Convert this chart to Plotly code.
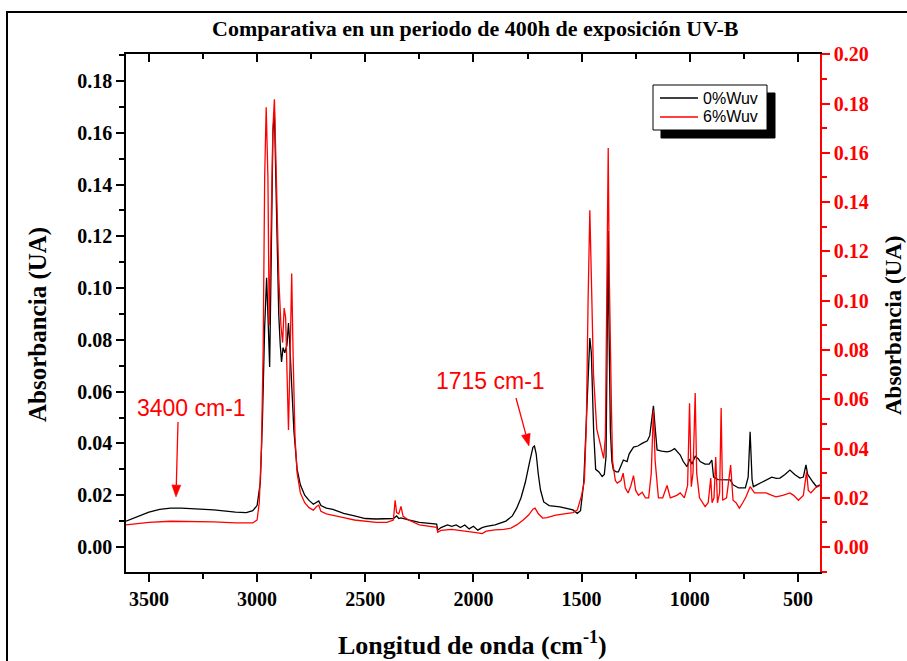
import plotly.graph_objects as go

# ---------------- data ----------------
wn_0 = [3606, 3550, 3500, 3450, 3400, 3350, 3300, 3200, 3100, 3050, 3020, 3000, 2985, 2975,
        2965, 2956, 2948, 2942, 2935, 2927, 2920, 2912, 2900, 2893, 2887, 2880, 2872, 2862,
        2855, 2850, 2840, 2830, 2815, 2800, 2780, 2760, 2740, 2725, 2715, 2705, 2680, 2650,
        2600, 2550, 2500, 2450, 2400, 2370, 2355, 2345, 2335, 2320, 2300, 2250, 2200, 2170,
        2165, 2150, 2120, 2100, 2080, 2060, 2040, 2020, 2000, 1980, 1960, 1940, 1900, 1850,
        1820, 1800, 1780, 1760, 1740, 1725, 1718, 1710, 1700, 1690, 1675, 1650, 1600, 1560,
        1540, 1520, 1505, 1490, 1478, 1470, 1462, 1455, 1444, 1435, 1420, 1405, 1395, 1387,
        1380, 1377, 1374, 1370, 1367, 1360, 1353, 1340, 1330, 1320, 1307, 1290, 1280, 1260,
        1240, 1220, 1196, 1185, 1175, 1168, 1160, 1151, 1130, 1105, 1090, 1070, 1044, 1030,
        1013, 1000, 990, 975, 960, 952, 930, 910, 898, 890, 870, 844, 813, 800, 774, 743,
        730, 721, 712, 706, 690, 675, 650, 621, 600, 583, 560, 537, 515, 491, 475, 463, 455,
        445, 430, 414, 398]
abs_0 = [0.0100, 0.0120, 0.0135, 0.0145, 0.0150, 0.0150, 0.0148, 0.0143, 0.0135, 0.0133, 0.0140,
         0.0160, 0.025, 0.050, 0.085, 0.104, 0.085, 0.0695, 0.110, 0.160, 0.168, 0.140, 0.090,
         0.078, 0.0715, 0.077, 0.075, 0.078, 0.0865, 0.080, 0.060, 0.045, 0.030, 0.024, 0.020,
         0.018, 0.0165, 0.0175, 0.0178, 0.016, 0.0150, 0.0145, 0.013, 0.012, 0.011, 0.0108,
         0.0108, 0.011, 0.012, 0.011, 0.0112, 0.011, 0.0105, 0.0095, 0.009, 0.0088, 0.0065,
         0.0075, 0.0085, 0.0080, 0.0085, 0.0075, 0.0085, 0.0070, 0.0080, 0.0065, 0.0075, 0.008,
         0.0085, 0.010, 0.012, 0.015, 0.019, 0.025, 0.033, 0.0385, 0.039, 0.036, 0.028, 0.022,
         0.0174, 0.016, 0.0155, 0.0148, 0.0143, 0.013, 0.014, 0.025, 0.050, 0.070, 0.0807,
         0.075, 0.044, 0.030, 0.029, 0.0272, 0.028, 0.035, 0.090, 0.122, 0.090, 0.055, 0.045,
         0.033, 0.0297, 0.029, 0.029, 0.031, 0.0336, 0.033, 0.036, 0.0386, 0.039, 0.040, 0.041,
         0.043, 0.050, 0.0545, 0.046, 0.0375, 0.037, 0.0367, 0.037, 0.038, 0.0355, 0.033, 0.031,
         0.034, 0.032, 0.035, 0.034, 0.033, 0.032, 0.032, 0.0336, 0.027, 0.026, 0.0259, 0.0259,
         0.024, 0.0228, 0.0228, 0.027, 0.0445, 0.026, 0.0233, 0.024, 0.0247, 0.026, 0.027,
         0.0265, 0.0266, 0.028, 0.0297, 0.028, 0.0266, 0.027, 0.0317, 0.028, 0.0266, 0.025,
         0.0233, 0.024]

wn_6 = [3606, 3550, 3500, 3400, 3300, 3200, 3100, 3050, 3020, 3000, 2990, 2980, 2972, 2965,
        2958, 2950, 2944, 2935, 2927, 2920, 2912, 2900, 2890, 2882, 2875, 2868, 2860, 2855,
        2848, 2840, 2834, 2825, 2815, 2800, 2780, 2760, 2740, 2725, 2715, 2705, 2680, 2650,
        2600, 2550, 2500, 2450, 2400, 2370, 2362, 2355, 2345, 2335, 2325, 2300, 2250, 2200,
        2170, 2165, 2150, 2100, 2060, 2020, 2000, 1980, 1960, 1940, 1900, 1860, 1827, 1800,
        1770, 1745, 1725, 1715, 1700, 1680, 1660, 1620, 1580, 1540, 1520, 1500, 1487, 1478,
        1470, 1462, 1455, 1445, 1430, 1410, 1398, 1390, 1383, 1377, 1372, 1366, 1362, 1357,
        1344, 1335, 1318, 1308, 1298, 1285, 1272, 1260, 1250, 1237, 1220, 1205, 1190, 1178,
        1168, 1160, 1145, 1125, 1105, 1090, 1060, 1044, 1025, 1010, 1001, 993, 985, 975, 968,
        955, 940, 929, 915, 903, 897, 888, 880, 872, 862, 855, 848, 830, 811, 800, 786, 771,
        755, 740, 721, 701, 675, 647, 620, 601, 570, 537, 520, 498, 475, 460, 452, 440, 420, 398]
abs_6 = [0.0090, 0.0095, 0.0100, 0.0105, 0.0105, 0.0102, 0.0098, 0.0097, 0.0098, 0.011, 0.018,
         0.040, 0.080, 0.150, 0.1785, 0.150, 0.090, 0.130, 0.170, 0.1817, 0.150, 0.110, 0.090,
         0.083, 0.097, 0.093, 0.065, 0.0475, 0.075, 0.111, 0.080, 0.045, 0.030, 0.022, 0.018,
         0.016, 0.015, 0.0165, 0.017, 0.0145, 0.0135, 0.013, 0.012, 0.011, 0.0105, 0.0100,
         0.0100, 0.011, 0.019, 0.014, 0.0135, 0.0165, 0.0125, 0.011, 0.0090, 0.0085, 0.0080,
         0.0060, 0.0068, 0.0072, 0.0068, 0.0065, 0.0062, 0.0058, 0.0055, 0.0065, 0.0070, 0.0072,
         0.0077, 0.009, 0.011, 0.013, 0.0154, 0.0158, 0.0135, 0.0118, 0.0120, 0.013, 0.0135,
         0.014, 0.015, 0.021, 0.027, 0.050, 0.100, 0.1367, 0.110, 0.070, 0.048, 0.040, 0.036,
         0.045, 0.100, 0.162, 0.110, 0.065, 0.0564, 0.035, 0.027, 0.026, 0.027, 0.030, 0.024,
         0.022, 0.025, 0.029, 0.023, 0.021, 0.0223, 0.020, 0.020, 0.030, 0.0556, 0.035, 0.020,
         0.020, 0.025, 0.020, 0.021, 0.022, 0.020, 0.025, 0.0584, 0.0245, 0.030, 0.0625, 0.030,
         0.020, 0.018, 0.0164, 0.018, 0.028, 0.018, 0.020, 0.0366, 0.018, 0.022, 0.0564, 0.019,
         0.020, 0.0333, 0.019, 0.018, 0.0158, 0.018, 0.0204, 0.0245, 0.022, 0.022, 0.022, 0.021,
         0.0204, 0.021, 0.022, 0.021, 0.019, 0.021, 0.0306, 0.023, 0.022, 0.024, 0.025]

series_names = ["0%Wuv", "6%Wuv"]
x_ticks = [3500, 3000, 2500, 2000, 1500, 1000, 500]
title_text = "Comparativa en un periodo de 400h de exposición UV-B"
x_title = "Longitud de onda (cm<sup>-1</sup>)"
y_title = "Absorbancia (UA)"
notes = ["3400 cm-1", "1715 cm-1"]

# ---------------- layout geometry ----------------
W, H = 907, 661
L, R, T, B = 126, 820, 54, 572
PW, PH = R - L, B - T


def xp(px):
    return (px - L) / PW


def yp(py):
    return (B - py) / PH


SERIF = "Liberation Serif"
SANS = "Liberation Sans"
RED = "#ff0000"
TICKSIZE = 20

fig = go.Figure()
fig.add_trace(go.Scatter(x=wn_0, y=abs_0, mode="lines", name=series_names[0],
                         line=dict(color="black", width=1.3), yaxis="y", showlegend=False))
fig.add_trace(go.Scatter(x=wn_6, y=abs_6, mode="lines", name=series_names[1],
                         line=dict(color=RED, width=1.3), yaxis="y2", showlegend=False))
# helper trace so the top axis gets drawn
fig.add_trace(go.Scatter(x=[None], y=[None], xaxis="x2", yaxis="y", showlegend=False,
                         hoverinfo="skip"))

xr = [3606, 398]
minor_x = [3250, 2750, 2250, 1750, 1250, 750]
fig.update_layout(
    width=W, height=H,
    margin=dict(l=L, r=W - R, t=T, b=H - B),
    paper_bgcolor="white", plot_bgcolor="white",
    showlegend=False,
    xaxis=dict(range=xr, tickvals=x_ticks, ticks="outside", ticklen=8, tickwidth=1.5,
               tickcolor="black", showline=True, linecolor="black", linewidth=1.5,
               showgrid=False, zeroline=False,
               tickfont=dict(family=SERIF, size=TICKSIZE, color="black", weight="bold"),
               minor=dict(tickvals=minor_x, ticks="outside",
                          ticklen=5, tickwidth=1.5, tickcolor="black", showgrid=False)),
    xaxis2=dict(range=xr, overlaying="x", side="top", tickvals=x_ticks, ticks="inside",
                ticklen=8, tickwidth=1.5, tickcolor="black", showline=True,
                linecolor="black", linewidth=1.5, showgrid=False, zeroline=False,
                showticklabels=False,
                minor=dict(tickvals=minor_x, ticks="inside",
                           ticklen=5, tickwidth=1.5, tickcolor="black", showgrid=False)),
    yaxis=dict(range=[-0.00966, 0.1904], dtick=0.02, tick0=0, tickformat=".2f",
               ticks="outside", ticklen=8, tickwidth=1.5, tickcolor="black",
               showline=True, linecolor="black", linewidth=1.5, showgrid=False,
               zeroline=False,
               tickfont=dict(family=SERIF, size=TICKSIZE, color="black", weight="bold"),
               minor=dict(dtick=0.01, tick0=0, ticks="outside", ticklen=5, tickwidth=1.5,
                          tickcolor="black", showgrid=False)),
    yaxis2=dict(range=[-0.0101, 0.2001], dtick=0.02, tick0=0, tickformat=".2f",
                overlaying="y", side="right", ticks="outside", ticklen=8, tickwidth=1.5,
                tickcolor=RED, showline=True, linecolor=RED, linewidth=1.5,
                showgrid=False, zeroline=False,
                tickfont=dict(family=SERIF, size=TICKSIZE, color=RED, weight="bold"),
                minor=dict(dtick=0.01, tick0=0, ticks="outside", ticklen=5, tickwidth=1.5,
                           tickcolor=RED, showgrid=False)),
)


def arrow_shapes(x0, y0, x1, y1, color):
    """Line from (x0,y0) to tip (x1,y1) in pixel coords, plus a filled head."""
    import math
    dx, dy = x1 - x0, y1 - y0
    n = math.hypot(dx, dy)
    ux, uy = dx / n, dy / n
    hl, hw = 12, 4.5
    bx, by = x1 - ux * hl, y1 - uy * hl
    px_, py_ = -uy, ux
    line = dict(type="line", xref="paper", yref="paper", x0=xp(x0), y0=yp(y0),
                x1=xp(bx), y1=yp(by), line=dict(color=color, width=1.3), layer="above")
    pts = [(x1, y1), (bx + px_ * hw, by + py_ * hw), (bx - px_ * hw, by - py_ * hw)]
    path = "M " + " L ".join(f"{xp(a):.5f},{yp(b):.5f}" for a, b in pts) + " Z"
    head = dict(type="path", xref="paper", yref="paper", path=path,
                fillcolor=color, line=dict(color=color, width=0.5), layer="above")
    return [line, head]


shapes = []
# outer frame
shapes.append(dict(type="rect", xref="paper", yref="paper", x0=xp(7), x1=xp(930),
                   y0=yp(680), y1=yp(12), line=dict(color="black", width=2),
                   fillcolor="rgba(0,0,0,0)", layer="below"))
# legend shadow + box
shapes.append(dict(type="rect", xref="paper", yref="paper", x0=xp(661), x1=xp(775),
                   y0=yp(138), y1=yp(93), line=dict(color="black", width=1),
                   fillcolor="black", layer="above"))
shapes.append(dict(type="rect", xref="paper", yref="paper", x0=xp(653), x1=xp(767),
                   y0=yp(130), y1=yp(85), line=dict(color="black", width=1),
                   fillcolor="white", layer="above"))
shapes.append(dict(type="line", xref="paper", yref="paper", x0=xp(660), x1=xp(698),
                   y0=yp(98), y1=yp(98), line=dict(color="black", width=1.3), layer="above"))
shapes.append(dict(type="line", xref="paper", yref="paper", x0=xp(660), x1=xp(698),
                   y0=yp(117), y1=yp(117), line=dict(color=RED, width=1.3), layer="above"))
# annotation arrows
shapes += arrow_shapes(178, 422, 176, 497, RED)
shapes += arrow_shapes(516, 398, 529, 446, RED)
fig.update_layout(shapes=shapes)

ann = []
ann.append(dict(text=f"<b>{title_text}</b>", xref="paper", yref="paper", x=xp(475), y=yp(28),
                showarrow=False, font=dict(family=SERIF, size=22, color="black"),
                xanchor="center", yanchor="middle"))
ann.append(dict(text=f"<b>{x_title}</b>", xref="paper", yref="paper", x=xp(472), y=yp(643),
                showarrow=False, font=dict(family=SERIF, size=26, color="black"),
                xanchor="center", yanchor="middle"))
ann.append(dict(text=f"<b>{y_title}</b>", xref="paper", yref="paper", x=xp(38), y=yp(325),
                showarrow=False, textangle=-90, font=dict(family=SERIF, size=25, color="black"),
                xanchor="center", yanchor="middle"))
ann.append(dict(text=f"<b>{y_title}</b>", xref="paper", yref="paper", x=xp(893), y=yp(325),
                showarrow=False, textangle=-90, font=dict(family=SERIF, size=23, color="black"),
                xanchor="center", yanchor="middle"))
# legend texts
ann.append(dict(text=series_names[0], xref="paper", yref="paper", x=xp(701), y=yp(98),
                showarrow=False, font=dict(family=SANS, size=16, color="black"),
                xanchor="left", yanchor="middle"))
ann.append(dict(text=series_names[1], xref="paper", yref="paper", x=xp(701), y=yp(117),
                showarrow=False, font=dict(family=SANS, size=16, color="black"),
                xanchor="left", yanchor="middle"))
# peak notes
ann.append(dict(text=notes[0], xref="paper", yref="paper", x=xp(191), y=yp(408),
                showarrow=False, font=dict(family=SANS, size=23, color=RED),
                xanchor="center", yanchor="middle"))
ann.append(dict(text=notes[1], xref="paper", yref="paper", x=xp(490), y=yp(381),
                showarrow=False, font=dict(family=SANS, size=23, color=RED),
                xanchor="center", yanchor="middle"))
fig.update_layout(annotations=ann)

fig.write_html("out.html")
